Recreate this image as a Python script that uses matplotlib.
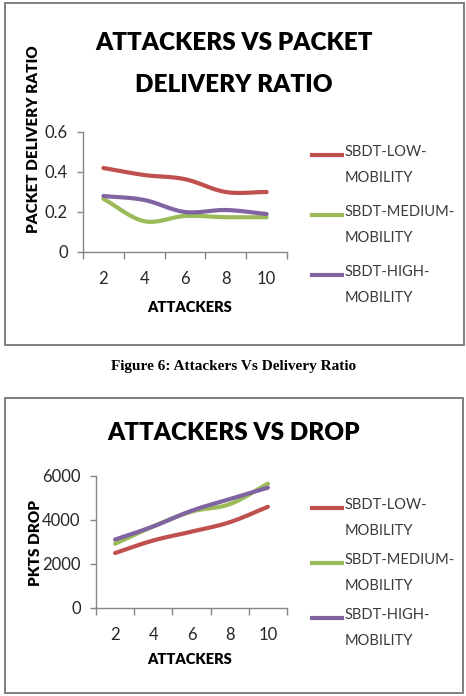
import numpy as np
import matplotlib.pyplot as plt
from matplotlib.patches import Rectangle

attackers = ['2', '4', '6', '8', '10']
series_names = ['SBDT-LOW-\nMOBILITY', 'SBDT-MEDIUM-\nMOBILITY', 'SBDT-HIGH-\nMOBILITY']
colors = ['#C0504D', '#9BBB59', '#8064A2']

pdr_low = [0.42, 0.385, 0.364, 0.30, 0.30]
pdr_medium = [0.266, 0.154, 0.18, 0.174, 0.174]
pdr_high = [0.28, 0.26, 0.20, 0.21, 0.19]

drop_low = [2500, 3070, 3470, 3900, 4600]
drop_medium = [2920, 3710, 4380, 4720, 5650]
drop_high = [3110, 3710, 4420, 4950, 5470]

W, H = 466, 696
FONT = ['Lato']


def smooth(y, n=24):
    # catmull-rom style curve through the points, like excel's smoothed line
    y = np.asarray(y, dtype=float)
    x = np.arange(len(y), dtype=float)
    p = np.concatenate([[2 * y[0] - y[1]], y, [2 * y[-1] - y[-2]]])
    xs, ys = [], []
    for i in range(len(y) - 1):
        t = np.linspace(0, 1, n, endpoint=(i == len(y) - 2))
        p0, p1, p2, p3 = p[i], p[i + 1], p[i + 2], p[i + 3]
        yy = 0.5 * ((2 * p1) + (-p0 + p2) * t + (2 * p0 - 5 * p1 + 4 * p2 - p3) * t ** 2
                    + (-p0 + 3 * p1 - 3 * p2 + p3) * t ** 3)
        xs.append(x[i] + t)
        ys.append(yy)
    return np.concatenate(xs), np.concatenate(ys)


def px_axes(fig, left, top, right, bottom):
    return fig.add_axes([left / W, 1 - bottom / H, (right - left) / W, (bottom - top) / H])


def draw_panel(fig, box, ax_box, title_lines, title_y, ylabel, ylabel_xy, xlabel_y,
               data, yticks, yfmt, legend_y):
    fig.patches.append(Rectangle((box[0] / W, 1 - box[3] / H), (box[2] - box[0]) / W,
                                 (box[3] - box[1]) / H, transform=fig.transFigure,
                                 fill=False, edgecolor='#7f7f7f', linewidth=1.4))
    for txt, ty in zip(title_lines, title_y):
        fig.text(234 / W, 1 - ty / H, txt, ha='center', va='center', fontsize=17.5,
                 fontweight='heavy', family=FONT, color='black')

    ax = px_axes(fig, *ax_box)
    for vals, c in zip(data, colors):
        xs, ys = smooth(vals)
        ax.plot(xs, ys, color=c, linewidth=3, solid_capstyle='round')
    ax.set_xlim(-0.5, len(attackers) - 0.5)
    ax.set_ylim(yticks[0], yticks[-1])
    ax.set_yticks(yticks)
    ax.set_yticklabels([yfmt(v) for v in yticks], family=FONT, fontsize=12, color='#262626')
    ax.set_xticks(np.arange(len(attackers) + 1) - 0.5)
    ax.set_xticklabels([])
    ax.set_xticks(np.arange(len(attackers)), minor=True)
    ax.set_xticklabels(attackers, minor=True, family=FONT, fontsize=12, color='#262626')
    ax.tick_params(axis='x', which='major', length=5, color='#868686', width=1)
    ax.tick_params(axis='x', which='minor', length=0, pad=14)
    ax.tick_params(axis='y', length=4, color='#868686', width=1, pad=7)
    for s in ['top', 'right']:
        ax.spines[s].set_visible(False)
    for s in ['left', 'bottom']:
        ax.spines[s].set_color('#868686')
        ax.spines[s].set_linewidth(1)
    ax.patch.set_alpha(0)

    fig.text(ylabel_xy[0] / W, 1 - ylabel_xy[1] / H, ylabel, rotation=90, ha='center',
             va='center', fontsize=11, fontweight='heavy', family=FONT)
    fig.text(190 / W, 1 - xlabel_y / H, 'ATTACKERS', ha='center', va='center',
             fontsize=10.5, fontweight='heavy', family=FONT)

    for name, c, ly in zip(series_names, colors, legend_y):
        fig.lines.append(plt.Line2D([312 / W, 342 / W], [1 - ly / H] * 2,
                                    transform=fig.transFigure, color=c, linewidth=3))
        fig.text(345 / W, 1 - (ly - 10) / H, name, ha='left', va='top', fontsize=10.5,
                 family=FONT, color='#3a3a3a', linespacing=2.1)


fig = plt.figure(figsize=(W / 100, H / 100), dpi=100)

draw_panel(fig, (5, 3, 464, 345), (83, 132, 287, 252),
           ['ATTACKERS VS PACKET', 'DELIVERY RATIO'], [43, 85],
           'PACKET DELIVERY RATIO', (34, 139), 308,
           [pdr_low, pdr_medium, pdr_high], [0, 0.2, 0.4, 0.6],
           lambda v: '0' if v == 0 else f'{v:.1f}', [155, 215, 275])

fig.text(234 / W, 1 - 367 / H, 'Figure 6: Attackers Vs Delivery Ratio', ha='center',
         va='center', fontsize=11, fontweight='bold', family='Liberation Serif')

draw_panel(fig, (5, 398, 463, 693), (96, 476, 287, 608),
           ['ATTACKERS VS DROP'], [433],
           'PKTS DROP', (35, 543), 660,
           [drop_low, drop_medium, drop_high], [0, 2000, 4000, 6000],
           lambda v: f'{v:d}', [508, 563, 618])

fig.savefig('out.png', dpi=100)
